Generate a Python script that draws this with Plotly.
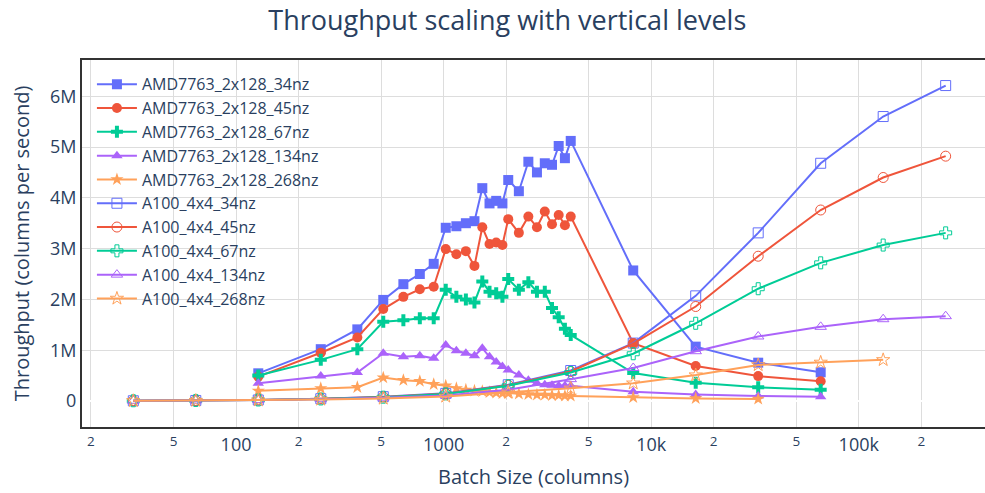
import plotly.graph_objects as go

amd_x = [128, 256, 384, 512, 640, 768, 896, 1024, 1152, 1280, 1408, 1536, 1664, 1792,
         1920, 2048, 2304, 2560, 2816, 3072, 3328, 3584, 3840, 4096, 8192, 16384, 32768, 65536]
a100_x = [32, 64, 128, 256, 512, 1024, 2048, 4096, 8192, 16384, 32768, 65536, 131072, 262144]

amd_34 = [0.545, 1.02, 1.41, 1.99, 2.30, 2.50, 2.70, 3.41, 3.44, 3.50, 3.54, 4.19, 3.89, 3.94,
          3.89, 4.35, 4.13, 4.71, 4.50, 4.68, 4.65, 5.02, 4.78, 5.12, 2.57, 1.07, 0.754, 0.565]
amd_45 = [0.48, 0.95, 1.25, 1.81, 2.05, 2.20, 2.25, 2.99, 2.89, 2.95, 2.66, 3.42, 3.09, 3.12,
          3.07, 3.58, 3.31, 3.63, 3.42, 3.73, 3.48, 3.66, 3.46, 3.63, 1.14, 0.69, 0.49, 0.39]
amd_67 = [0.50, 0.81, 1.02, 1.56, 1.59, 1.63, 1.63, 2.19, 2.05, 2.00, 1.94, 2.35, 2.15, 2.12,
          2.05, 2.40, 2.19, 2.34, 2.15, 2.15, 1.83, 1.65, 1.42, 1.30, 0.55, 0.36, 0.27, 0.22]
amd_134 = [0.35, 0.49, 0.56, 0.94, 0.87, 0.89, 0.84, 1.10, 0.99, 0.94, 0.89, 1.04, 0.87, 0.77,
           0.68, 0.61, 0.51, 0.41, 0.35, 0.32, 0.31, 0.30, 0.30, 0.30, 0.18, 0.13, 0.10, 0.085]
amd_268 = [0.20, 0.25, 0.27, 0.46, 0.41, 0.39, 0.33, 0.30, 0.25, 0.22, 0.20, 0.19, 0.17, 0.16,
           0.15, 0.15, 0.14, 0.13, 0.12, 0.12, 0.11, 0.11, 0.10, 0.10, 0.07, 0.05, 0.04]

a100_34 = [0.005, 0.01, 0.02, 0.045, 0.085, 0.15, 0.32, 0.60, 1.14, 2.07, 3.31, 4.68, 5.60, 6.21]
a100_45 = [0.005, 0.01, 0.02, 0.042, 0.08, 0.145, 0.31, 0.58, 1.13, 1.86, 2.85, 3.76, 4.40, 4.82]
a100_67 = [0.005, 0.01, 0.02, 0.04, 0.075, 0.14, 0.30, 0.56, 0.93, 1.53, 2.21, 2.72, 3.07, 3.31]
a100_134 = [0.004, 0.009, 0.018, 0.035, 0.065, 0.11, 0.22, 0.43, 0.65, 0.98, 1.27, 1.46, 1.61, 1.67]
a100_268 = [0.004, 0.008, 0.016, 0.03, 0.05, 0.09, 0.17, 0.25, 0.35, 0.51, 0.71, 0.76, 0.81]

series = [
    ("AMD7763_2x128_34nz", amd_x, amd_34, "square", "#636efa"),
    ("AMD7763_2x128_45nz", amd_x, amd_45, "circle", "#EF553B"),
    ("AMD7763_2x128_67nz", amd_x, amd_67, "cross", "#00cc96"),
    ("AMD7763_2x128_134nz", amd_x, amd_134, "triangle-up", "#ab63fa"),
    ("AMD7763_2x128_268nz", amd_x, amd_268, "star", "#FFA15A"),
    ("A100_4x4_34nz", a100_x, a100_34, "square-open", "#636efa"),
    ("A100_4x4_45nz", a100_x, a100_45, "circle-open", "#EF553B"),
    ("A100_4x4_67nz", a100_x, a100_67, "cross-open", "#00cc96"),
    ("A100_4x4_134nz", a100_x, a100_134, "triangle-up-open", "#ab63fa"),
    ("A100_4x4_268nz", a100_x, a100_268, "star-open", "#FFA15A"),
]

fig = go.Figure()
for name, xs, ys, sym, col in series:
    fig.add_trace(go.Scatter(
        x=xs[:len(ys)], y=[v * 1e6 for v in ys], name=name, mode="lines+markers",
        line=dict(color=col, width=2),
        marker=dict(symbol=sym, size=10, color=col),
    ))

fig.update_layout(
    width=985, height=493,
    margin=dict(l=82, r=0, t=60, b=66),
    paper_bgcolor="white", plot_bgcolor="white",
    font=dict(family="Open Sans", size=18, color="#2a3f5f"),
    title=dict(text="Throughput scaling with vertical levels", x=0.515, xanchor="center",
               font=dict(size=27)),
    legend=dict(x=0.011, y=0.98, xanchor="left", yanchor="top", bgcolor="rgba(0,0,0,0)",
                font=dict(size=16), itemwidth=40),
    xaxis=dict(type="log", range=[1.258, 5.608], title=dict(text="Batch Size (columns)", font=dict(size=20)),
               showgrid=True, gridcolor="#dddddd", showline=True, linecolor="#333333", linewidth=2,
               mirror=True, ticks=""),
    yaxis=dict(range=[-0.512e6, 6.713e6], title=dict(text="Throughput (columns per second)", font=dict(size=20)),
               showgrid=True, gridcolor="#dddddd", showline=True, linecolor="#333333", linewidth=2,
               zeroline=True, zerolinecolor="white", zerolinewidth=2, dtick=1e6, ticks=""),
)

fig.write_html("out.html")
